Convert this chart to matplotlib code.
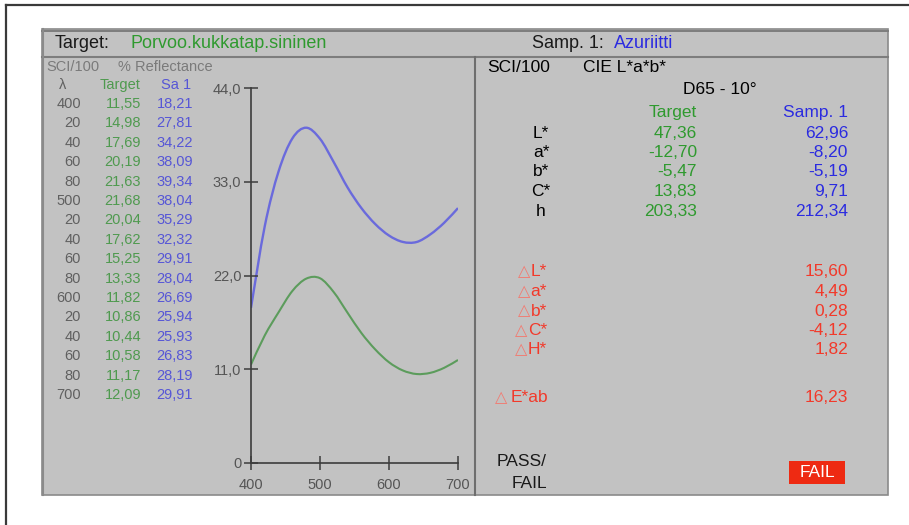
import matplotlib.pyplot as plt
import matplotlib.ticker as ticker
from matplotlib.patches import Rectangle, PathPatch
from matplotlib.path import Path

#-------------------------------------------------------------------------------
# data
target_name = 'Porvoo.kukkatap.sininen'
sample_name = 'Azuriitti'

wavelength = [400, 420, 440, 460, 480, 500, 520, 540, 560, 580,
              600, 620, 640, 660, 680, 700]
target_refl = [11.55, 14.98, 17.69, 20.19, 21.63, 21.68, 20.04, 17.62,
               15.25, 13.33, 11.82, 10.86, 10.44, 10.58, 11.17, 12.09]
sample_refl = [18.21, 27.81, 34.22, 38.09, 39.34, 38.04, 35.29, 32.32,
               29.91, 28.04, 26.69, 25.94, 25.93, 26.83, 28.19, 29.91]

yticks = [0, 11, 22, 33, 44]
xticks = [400, 500, 600, 700]

cie_labels = ['L*', 'a*', 'b*', 'C*', 'h']
target_cie = [47.36, -12.70, -5.47, 13.83, 203.33]
sample_cie = [62.96, -8.20, -5.19, 9.71, 212.34]

delta_labels = ['L*', 'a*', 'b*', 'C*', 'H*']
delta_values = [15.60, 4.49, 0.28, -4.12, 1.82]
delta_e = 16.23
result = 'FAIL'

#-------------------------------------------------------------------------------
GREEN = '#2f9a2f'
GREEN_T = '#4f9a4f'
BLUE = '#2b2be0'
BLUE_T = '#5656d6'
RED = '#f2392a'
RED_LIGHT = '#f27a70'
GRAY_T = '#606060'
PANEL = '#c2c2c2'
FONT = ['Liberation Sans', 'DejaVu Sans']

plt.rcParams['font.family'] = FONT

def comma(v, n=2):
    return ('%.*f' % (n, v)).replace('.', ',')

def smooth_path(x, y):
    # cubic bezier path passing through every data point (Catmull-Rom style)
    pts = list(zip(x, y))
    verts = [pts[0]]
    codes = [Path.MOVETO]
    for i in range(len(pts) - 1):
        p0 = pts[max(i - 1, 0)]
        p1 = pts[i]
        p2 = pts[i + 1]
        p3 = pts[min(i + 2, len(pts) - 1)]
        c1 = (p1[0] + (p2[0] - p0[0]) / 6, p1[1] + (p2[1] - p0[1]) / 6)
        c2 = (p2[0] - (p3[0] - p1[0]) / 6, p2[1] - (p3[1] - p1[1]) / 6)
        verts += [c1, c2, p2]
        codes += [Path.CURVE4] * 3
    return Path(verts, codes)

W, H = 909, 525
fig = plt.figure(figsize=(W / 100, H / 100), dpi=100)
fig.patch.set_facecolor('white')

# background axes in pixel coordinates
bg = fig.add_axes([0, 0, 1, 1])
bg.set_xlim(0, W)
bg.set_ylim(H, 0)
bg.axis('off')

# outer frame (left and top edges only visible)
bg.plot([6, 6], [H, 5], color='#3a3a3a', lw=1.6)
bg.plot([6, W], [5, 5], color='#3a3a3a', lw=1.6)

# grey panel + header bar
bg.add_patch(Rectangle((42, 29), 846, 466, facecolor=PANEL, edgecolor='#8a8a8a', lw=1.2))
bg.plot([42, 888], [30.5, 30.5], color='#7d7d7d', lw=1.4)
bg.plot([42, 888], [56.5, 56.5], color='#7d7d7d', lw=1.5)
bg.plot([43, 43], [29, 495], color='#8a8a8a', lw=1.5)
bg.plot([475, 475], [57, 495], color='#6e6e6e', lw=1.5)

def txt(x, y, s, color='black', size=10, ha='left', **kw):
    return bg.text(x, y, s, color=color, fontsize=size, ha=ha, va='center', **kw)

txt(55, 43, 'Target:', size=13, color='#1a1a1a')
txt(130, 43, target_name, color=GREEN, size=13)
txt(532, 43, 'Samp. 1:', size=13, color='#1a1a1a')
txt(614, 43, sample_name, color=BLUE, size=13)

#-------------------------------------------------------------------------------
# left table
TS = 10.5
txt(46, 67, 'SCI/100', color='#7a7a7a', size=TS)
txt(118, 67, '% Reflectance', color='#7a7a7a', size=TS)
txt(63, 85, 'λ', color=GRAY_T, size=TS, ha='center')
txt(141, 85, 'Target', color=GREEN_T, size=TS, ha='right')
txt(191, 85, 'Sa 1', color=BLUE_T, size=TS, ha='right')
for i, w in enumerate(wavelength):
    y = 104 + i * 19.4
    lab = str(w) if w % 100 == 0 else str(w % 100)
    txt(81, y, lab, color=GRAY_T, size=TS, ha='right')
    txt(141, y, comma(target_refl[i]), color=GREEN_T, size=TS, ha='right')
    txt(193, y, comma(sample_refl[i]), color=BLUE_T, size=TS, ha='right')

#-------------------------------------------------------------------------------
# reflectance curves
ax = fig.add_axes([251 / W, (H - 463) / H, (458 - 251) / W, (463 - 88) / H])
ax.patch.set_alpha(0)
ax.add_patch(PathPatch(smooth_path(wavelength, sample_refl), fill=False,
                       edgecolor='#6a6adc', lw=1.7))
ax.add_patch(PathPatch(smooth_path(wavelength, target_refl), fill=False,
                       edgecolor='#5c9c5c', lw=1.5))
ax.set_xlim(400, 700)
ax.set_ylim(0, 44)
for s in ['top', 'right']:
    ax.spines[s].set_visible(False)
for s in ['left', 'bottom']:
    ax.spines[s].set_color('#3c3c3c')
    ax.spines[s].set_linewidth(1.2)
ax.set_xticks(xticks)
ax.set_yticks(yticks)
ax.yaxis.set_major_formatter(ticker.FuncFormatter(lambda v, p: '0' if v == 0 else comma(v, 1)))
ax.tick_params(direction='inout', length=10, width=1.1, color='#3c3c3c',
               labelcolor='#555555', labelsize=TS)
ax.tick_params(axis='y', pad=2)
ax.tick_params(axis='x', pad=6)

#-------------------------------------------------------------------------------
# CIE L*a*b* table
RS = 12.5
txt(487, 68, 'SCI/100', size=RS)
txt(583, 68, 'CIE L*a*b*', size=RS)
txt(720, 89, 'D65 - 10°', size=RS, ha='center')
txt(697, 113, 'Target', color=GREEN, size=RS, ha='right')
txt(848, 113, 'Samp. 1', color=BLUE, size=RS, ha='right')
for i, lab in enumerate(cie_labels):
    y = 133 + i * 19.5
    txt(541, y, lab, size=RS, ha='center')
    txt(697, y, comma(target_cie[i]), color=GREEN, size=RS, ha='right')
    txt(848, y, comma(sample_cie[i]), color=BLUE, size=RS, ha='right')

def delta_label(x, y, lab, gap):
    t = txt(x, y, lab, color=RED, size=RS, ha='right')
    bg.annotate('△', xy=(0, 0.5), xycoords=t, xytext=(-gap, 0),
                textcoords='offset points', ha='right', va='center',
                color=RED_LIGHT, fontsize=RS - 1)

for i, lab in enumerate(delta_labels):
    y = 272 + i * 19.5
    delta_label(547, y, lab, 0.5)
    txt(848, y, comma(delta_values[i]), color=RED, size=RS, ha='right')

delta_label(548, 398, 'E*ab', 2.5)
txt(848, 398, comma(delta_e), color=RED, size=RS, ha='right')

txt(547, 462, 'PASS/', size=RS, ha='right', color='#1a1a1a')
txt(547, 484, 'FAIL', size=RS, ha='right', color='#1a1a1a')
bg.add_patch(Rectangle((789, 461), 56, 23, facecolor='#ee2a12', edgecolor='none'))
txt(817, 472.5, result, color='white', size=RS, ha='center')

plt.savefig('out.png', dpi=100)
